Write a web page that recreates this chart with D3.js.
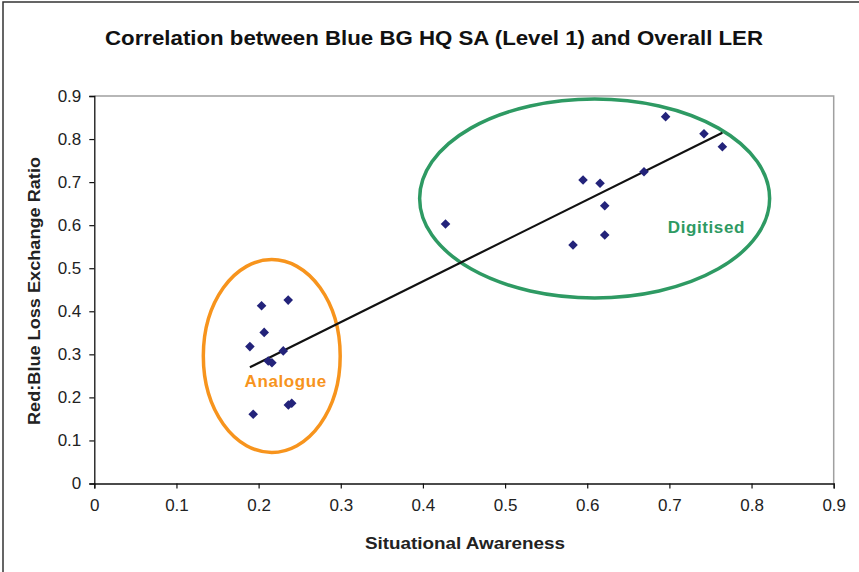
<!DOCTYPE html>
<html><head><meta charset="utf-8">
<script src="https://cdn.jsdelivr.net/npm/d3@7"></script>
<style>
body{margin:0;background:#fff;}
svg{display:block;font-family:"Liberation Sans",Arial,sans-serif;}
</style></head>
<body>
<svg id="chart" width="859" height="572"></svg>
<script>
// ---- data ----
const title = "Correlation between Blue BG HQ SA (Level 1) and Overall LER";
const xLabel = "Situational Awareness";
const yLabel = "Red:Blue Loss Exchange Ratio";
const xTicks = [0,0.1,0.2,0.3,0.4,0.5,0.6,0.7,0.8,0.9];
const yTicks = [0,0.1,0.2,0.3,0.4,0.5,0.6,0.7,0.8,0.9];
// Situational awareness (x) and LER (y)
const saValues  = [0.2036,0.2360,0.2068,0.1894,0.2300,0.2117,0.2162,0.2362,0.2403,0.1934,
                   0.6954,0.7421,0.7645,0.6691,0.5949,0.6156,0.6213,0.4275,0.6213,0.5827];
const lerValues = [0.413,0.426,0.351,0.318,0.308,0.2845,0.2805,0.1823,0.1865,0.1607,
                   0.852,0.8124,0.782,0.724,0.7048,0.6972,0.6451,0.6026,0.5771,0.5539];
// group annotations (ellipses in data units)
const groupNames = ["Analogue","Digitised"];
const groupCx = [0.216,0.609];
const groupCy = [0.296,0.662];
const groupRx = [0.0833,0.213];
const groupRy = [0.224,0.231];
const groupLabelX = [0.233,0.745];
const groupLabelY = [0.224,0.581];
const groupColors = ["#F7941D","#2E9A63"];

(function(){
// ---- layout ----
const svg = d3.select("#chart");
const pLeft = 94.3, pRight = 833.7, pTop = 96, pBottom = 483.5;
const x = d3.scaleLinear().domain([0,0.9]).range([pLeft,pRight]);
const y = d3.scaleLinear().domain([0,0.9]).range([pBottom,pTop]);

// outer border
svg.append("rect").attr("x",3).attr("y",2).attr("width",900).attr("height",620)
  .attr("fill","none").attr("stroke","#333").attr("stroke-width",1.5);

// plot frame (gray top/right)
svg.append("path")
  .attr("d",`M${pLeft},${pTop}H${pRight}V${pBottom}`)
  .attr("fill","none").attr("stroke","#a0a0a0").attr("stroke-width",1.5);

// axes
const fmt = d=>String(+d.toFixed(1));
const xAxis = svg.append("g").attr("transform",`translate(0,${pBottom})`)
  .call(d3.axisBottom(x).tickValues(xTicks).tickFormat(fmt).tickSize(5).tickPadding(10));
const yAxis = svg.append("g").attr("transform",`translate(${pLeft},0)`)
  .call(d3.axisLeft(y).tickValues(yTicks).tickFormat(fmt).tickSize(5).tickPadding(8));
[xAxis,yAxis].forEach(g=>{
  g.select(".domain").attr("stroke","#111").attr("stroke-width",1.3);
  g.selectAll(".tick line").attr("stroke","#111").attr("stroke-width",1.2);
  g.selectAll(".tick text").attr("font-size",17).attr("fill","#222")
    .attr("font-family","'Liberation Sans',Arial,sans-serif");
});

// title and axis labels
svg.append("text").attr("x",434).attr("y",45).attr("text-anchor","middle")
  .attr("font-size",21).attr("font-weight","bold").attr("fill","#111")
  .attr("textLength",658).attr("lengthAdjust","spacingAndGlyphs").text(title);
svg.append("text").attr("x",465).attr("y",549).attr("text-anchor","middle")
  .attr("font-size",16).attr("font-weight","bold").attr("fill","#222")
  .attr("textLength",200).attr("lengthAdjust","spacingAndGlyphs").text(xLabel);
svg.append("text").attr("transform","translate(40,291) rotate(-90)").attr("text-anchor","middle")
  .attr("font-size",16).attr("font-weight","bold").attr("fill","#222")
  .attr("textLength",268).attr("lengthAdjust","spacingAndGlyphs").text(yLabel);

// ellipses
groupNames.forEach((g,i)=>{
  svg.append("ellipse")
    .attr("cx",x(groupCx[i])).attr("cy",y(groupCy[i]))
    .attr("rx",x(groupRx[i])-x(0)).attr("ry",y(0)-y(groupRy[i]))
    .attr("fill","none").attr("stroke",groupColors[i]).attr("stroke-width",3.5);
  svg.append("text").attr("x",x(groupLabelX[i])).attr("y",y(groupLabelY[i]))
    .attr("text-anchor","middle").attr("font-size",17).attr("font-weight","bold")
    .attr("fill",groupColors[i]).attr("letter-spacing",0.6).text(g);
});

// linear trend line from data
const pts = saValues.map((v,i)=>[v,lerValues[i]]);
const mx = d3.mean(saValues), my = d3.mean(lerValues);
const sxy = d3.sum(pts,p=>(p[0]-mx)*(p[1]-my));
const sxx = d3.sum(pts,p=>(p[0]-mx)*(p[0]-mx));
const slope = sxy/sxx, icpt = my - slope*mx;
const [xmin,xmax] = d3.extent(saValues);
svg.append("line")
  .attr("x1",x(xmin)).attr("y1",y(icpt+slope*xmin))
  .attr("x2",x(xmax)).attr("y2",y(icpt+slope*xmax))
  .attr("stroke","#111").attr("stroke-width",2.2);

// markers
svg.append("g").selectAll("path").data(pts).join("path")
  .attr("transform",d=>`translate(${x(d[0])},${y(d[1])}) rotate(45)`)
  .attr("d",d3.symbol(d3.symbolSquare,46)())
  .attr("fill","#23237A");
})();
</script>
</body></html>
